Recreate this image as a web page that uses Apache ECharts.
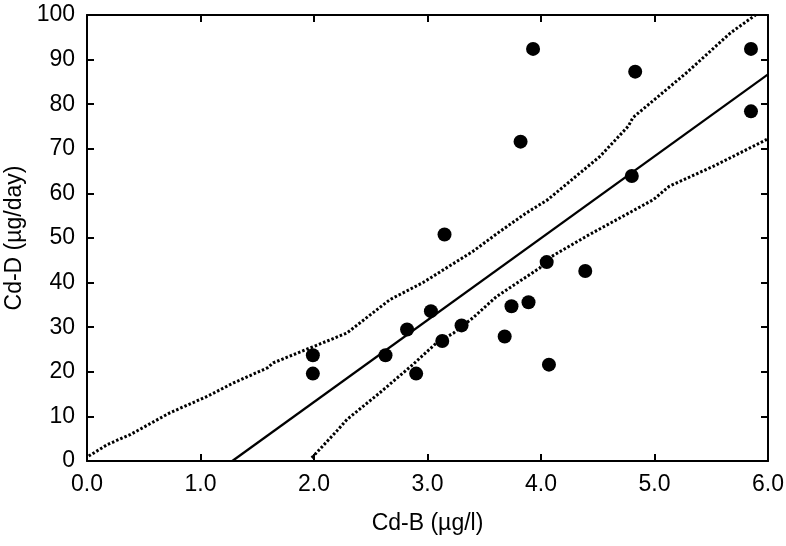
<!DOCTYPE html>
<html>
<head>
<meta charset="utf-8">
<script src="https://cdn.jsdelivr.net/npm/echarts@6/dist/echarts.min.js"></script>
<style>html,body{margin:0;padding:0;background:#fff}#c{width:786px;height:546px}</style>
</head>
<body>
<div id="c"></div>
<script>
const xTitle = 'Cd-B (µg/l)';
const yTitle = 'Cd-D (µg/day)';
const pointsX = [1.99, 1.99, 2.63, 2.82, 2.90, 3.03, 3.13, 3.15, 3.30, 3.68, 3.74, 3.82, 3.89, 3.93, 4.05, 4.07, 4.39, 4.80, 4.83, 5.85, 5.85];
const pointsY = [23.7, 19.6, 23.7, 29.5, 19.6, 33.6, 26.9, 50.8, 30.4, 27.9, 34.7, 71.6, 35.6, 92.4, 44.6, 21.6, 42.6, 63.9, 87.3, 92.4, 78.4];
const fitX = [1.28, 6.0];
const fitY = [0, 86.7];
const upperX = [0.015, 0.18, 0.38, 0.73, 1.06, 1.29, 1.59, 1.64, 2.0, 2.29, 2.67, 2.96, 3.40, 3.64, 3.87, 4.06, 4.52, 4.77, 4.81, 5.28, 5.67, 5.89];
const upperY = [1.1, 3.7, 5.9, 10.8, 14.5, 17.5, 20.9, 22.0, 25.7, 28.7, 36.2, 40.0, 47.0, 51.5, 55.6, 58.6, 68.3, 75.1, 77.0, 87.0, 96.0, 100];
const lowerX = [1.98, 2.2, 2.29, 2.58, 2.87, 3.08, 3.23, 3.40, 3.61, 3.99, 4.05, 4.40, 4.99, 5.13, 5.52, 5.99];
const lowerY = [0.7, 6.7, 9.3, 15.3, 21.6, 26.5, 28.7, 32.1, 36.9, 43.3, 45.2, 50.4, 58.6, 61.6, 66.1, 72.1];

const zip = (a, b) => a.map((v, i) => [v, b[i]]);
const font = "'Liberation Sans', Arial, sans-serif";
const axisLine = { show: true, onZero: false, lineStyle: { color: '#000', width: 2 } };
const axisTick = { show: true, inside: true, length: 7, lineStyle: { color: '#000', width: 2 } };

const chart = echarts.init(document.getElementById('c'));
chart.setOption({
  animation: false,
  backgroundColor: '#fff',
  grid: { left: 87, right: 18, top: 15, bottom: 85, containLabel: false, outerBoundsMode: 'none' },
  xAxis: [
    { type: 'value', min: 0, max: 6, interval: 1, position: 'bottom',
      name: xTitle, nameLocation: 'middle', nameGap: 51,
      nameTextStyle: { fontFamily: font, fontSize: 23, color: '#000' },
      axisLine, axisTick, splitLine: { show: false },
      axisLabel: { color: '#000', fontFamily: font, fontSize: 23, margin: 12, formatter: v => v.toFixed(1) } },
    { type: 'value', min: 0, max: 6, interval: 1, position: 'top',
      axisLine, axisTick, splitLine: { show: false }, axisLabel: { show: false } }
  ],
  yAxis: [
    { type: 'value', min: 0, max: 100, interval: 10, position: 'left',
      name: yTitle, nameLocation: 'middle', nameGap: 58,
      nameTextStyle: { fontFamily: font, fontSize: 23, color: '#000' },
      axisLine, axisTick, splitLine: { show: false },
      axisLabel: { color: '#000', fontFamily: font, fontSize: 23, margin: 12 } },
    { type: 'value', min: 0, max: 100, interval: 10, position: 'right',
      axisLine, axisTick, splitLine: { show: false }, axisLabel: { show: false } }
  ],
  series: [
    { type: 'line', data: zip(upperX, upperY), symbol: 'none', smooth: false,
      lineStyle: { color: '#000', width: 3, type: [2.5, 2] }, z: 2 },
    { type: 'line', data: zip(lowerX, lowerY), symbol: 'none', smooth: false,
      lineStyle: { color: '#000', width: 3, type: [2.5, 2] }, z: 2 },
    { type: 'line', data: zip(fitX, fitY), symbol: 'none',
      lineStyle: { color: '#000', width: 2.2 }, z: 3 },
    { type: 'scatter', data: zip(pointsX, pointsY), symbol: 'circle', symbolSize: 14,
      itemStyle: { color: '#000', opacity: 1 }, z: 4 }
  ]
});
</script>
</body>
</html>
